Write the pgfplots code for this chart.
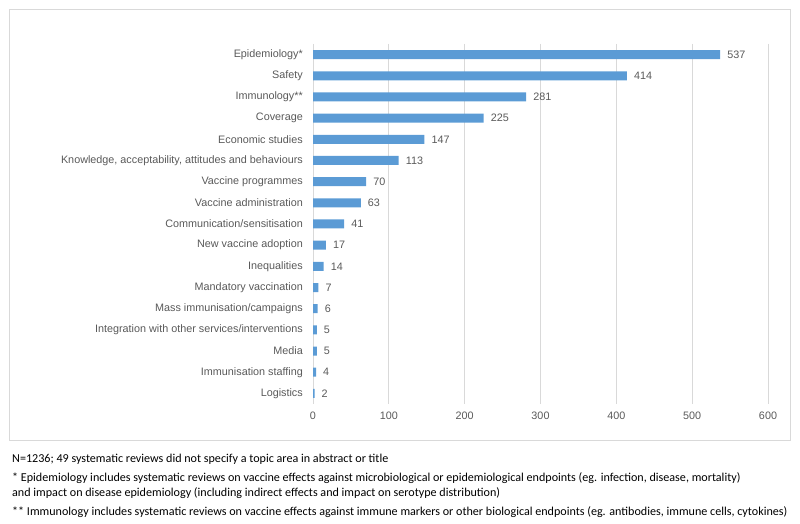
\documentclass[border=0pt]{standalone}
\usepackage{pgfplots}
\pgfplotsset{compat=1.18}
\usepackage{fontspec}
\setmainfont{Liberation Sans}
\newfontfamily\notefont{Carlito}
\definecolor{barblue}{HTML}{5B9BD5}
\definecolor{txtgray}{HTML}{595959}
\definecolor{gridgray}{HTML}{D9D9D9}
\begin{document}
\begin{tikzpicture}[x=1pt,y=1pt]
  % page box and chart frame (1pt = 1px)
  \path (0,0) rectangle (800,524);
  \draw[gridgray, line width=0.8pt] (9,84) rectangle (790,515);

  \begin{axis}[
      at={(313pt,120pt)}, anchor=south west,
      scale only axis,
      width=455pt, height=360pt,
      xbar, bar width=9pt,
      xmin=0, xmax=600,
      ymin=-0.5, ymax=16.5,
      y dir=reverse,
      axis line style={draw=none},
      xmajorgrids,
      grid style={gridgray, line width=0.8pt},
      xtick={0,100,...,600},
      ytick={0,...,16},
      yticklabels={Epidemiology*, Safety, Immunology**, Coverage, Economic studies,
        {Knowledge, acceptability, attitudes and behaviours}, Vaccine programmes,
        Vaccine administration, Communication/sensitisation, New vaccine adoption,
        Inequalities, Mandatory vaccination, Mass immunisation/campaigns,
        Integration with other services/interventions, Media, Immunisation staffing,
        Logistics},
      major tick length=0pt,
      tick style={draw=none},
      yticklabel style={font=\fontsize{10.8}{12}\selectfont, text=txtgray, inner xsep=0pt, xshift=-10pt},
      xticklabel style={font=\fontsize{10.8}{12}\selectfont, text=txtgray, yshift=-4pt},
      /pgf/number format/assume math mode=true,
      nodes near coords,
      nodes near coords style={font=\fontsize{10.8}{12}\selectfont, text=txtgray, anchor=west, inner xsep=0pt, xshift=7pt},
    ]
    \addplot[fill=barblue, draw=none] coordinates {
      (537,0) (414,1) (281,2) (225,3) (147,4) (113,5) (70,6) (63,7) (41,8)
      (17,9) (14,10) (7,11) (6,12) (5,13) (5,14) (4,15) (2,16)
    };
  \end{axis}

  \begin{scope}[every node/.style={anchor=west, inner sep=0pt, font=\notefont\fontsize{12.1}{14}\selectfont}]
    \node at (12,65) {N=1236; 49 systematic reviews did not specify a topic area in abstract or title};
    \node at (12,46) {* Epidemiology includes systematic reviews on vaccine effects against microbiological or epidemiological endpoints (eg. infection, disease, mortality)};
    \node at (12,31) {and impact on disease epidemiology (including indirect effects and impact on serotype distribution)};
    \node at (12,12) {** Immunology includes systematic reviews on vaccine effects against immune markers or other biological endpoints (eg. antibodies, immune cells, cytokines)};
  \end{scope}
\end{tikzpicture}
\end{document}
